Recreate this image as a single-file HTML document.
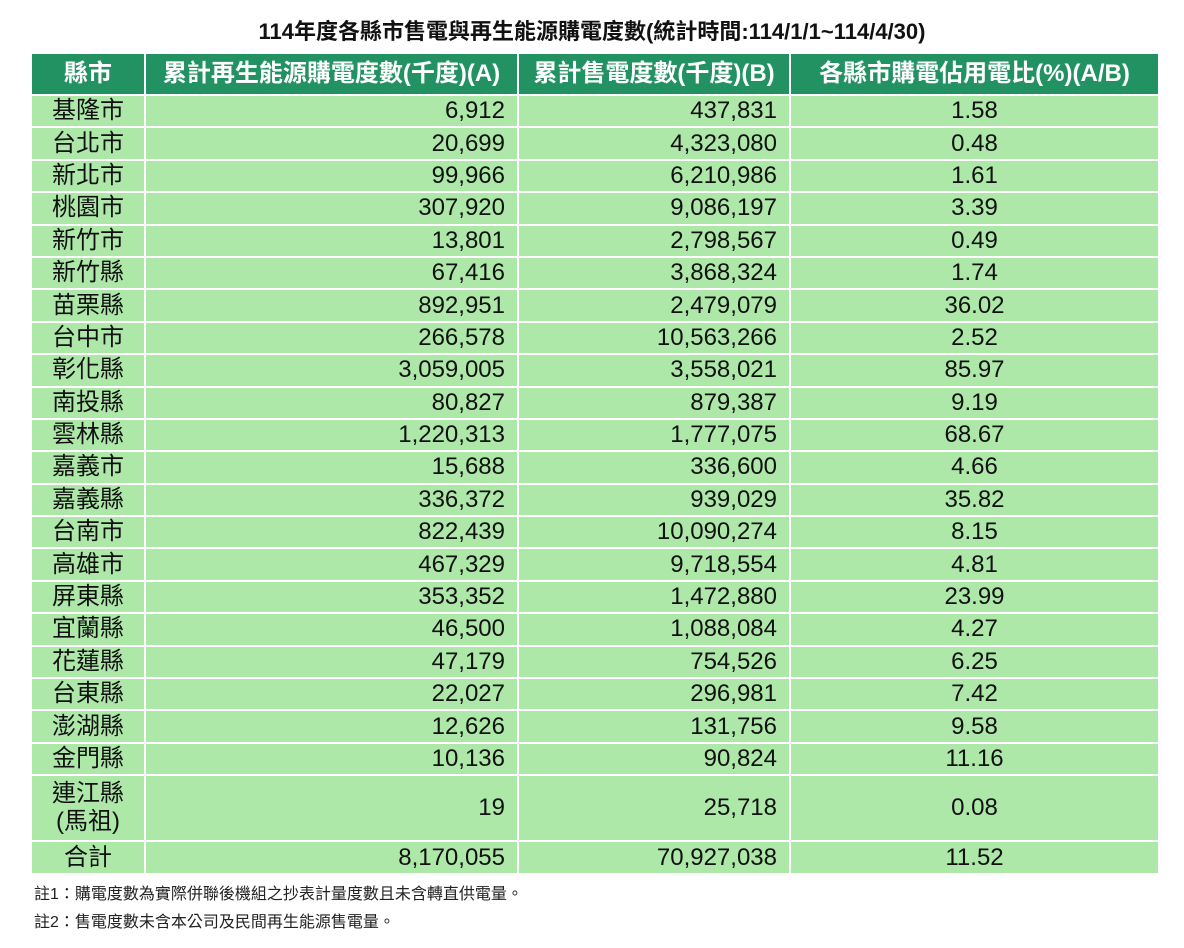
<!DOCTYPE html>
<html><head><meta charset="utf-8"><style>
body{margin:0;background:#fff;width:1184px;height:948px;overflow:hidden;font-family:"Liberation Sans","Noto Sans CJK TC",sans-serif;}
#title{position:absolute;left:0;width:1184px;top:14px;text-align:center;font-weight:bold;font-size:22px;color:#111;}
table{position:absolute;left:30px;top:52px;width:1128px;border-collapse:collapse;table-layout:fixed;}
td,th{border:2px solid #fff;padding:0 12px;font-size:24px;line-height:28px;color:#111;}
th{background:#229263;color:#fff;font-weight:bold;height:40px;white-space:nowrap;padding:0 4px;}
td{background:#ade8a9;height:30px;}
td.n{text-align:right;}
td.c{text-align:center;padding:0 4px;}
.note{position:absolute;left:34px;font-size:16px;color:#222;}
</style></head><body>
<div id="title">114年度各縣市售電與再生能源購電度數(統計時間:114/1/1~114/4/30)</div>
<table>
<colgroup><col style="width:114px"><col style="width:373px"><col style="width:272px"><col style="width:369px"></colgroup>
<thead><tr>
<th>縣市</th>
<th>累計再生能源購電度數(千度)(A)</th>
<th>累計售電度數(千度)(B)</th>
<th>各縣市購電佔用電比(%)(A/B)</th>
</tr></thead>
<tbody id="tb"></tbody>
</table>
<div class="note" style="top:880px">註1：購電度數為實際併聯後機組之抄表計量度數且未含轉直供電量。</div>
<div class="note" style="top:908px">註2：售電度數未含本公司及民間再生能源售電量。</div>
<script>
const counties=["基隆市","台北市","新北市","桃園市","新竹市","新竹縣","苗栗縣","台中市","彰化縣","南投縣","雲林縣","嘉義市","嘉義縣","台南市","高雄市","屏東縣","宜蘭縣","花蓮縣","台東縣","澎湖縣","金門縣","連江縣<br>(馬祖)","合計"];
const renewable=["6,912","20,699","99,966","307,920","13,801","67,416","892,951","266,578","3,059,005","80,827","1,220,313","15,688","336,372","822,439","467,329","353,352","46,500","47,179","22,027","12,626","10,136","19","8,170,055"];
const sales=["437,831","4,323,080","6,210,986","9,086,197","2,798,567","3,868,324","2,479,079","10,563,266","3,558,021","879,387","1,777,075","336,600","939,029","10,090,274","9,718,554","1,472,880","1,088,084","754,526","296,981","131,756","90,824","25,718","70,927,038"];
const ratio=["1.58","0.48","1.61","3.39","0.49","1.74","36.02","2.52","85.97","9.19","68.67","4.66","35.82","8.15","4.81","23.99","4.27","6.25","7.42","9.58","11.16","0.08","11.52"];
const tb=document.getElementById('tb');
counties.forEach((c,i)=>{
 const tr=document.createElement('tr');
 
 
 const h=(i===21)?64:(i===22?31:30.4);
 [[c,'c'],[renewable[i],'n'],[sales[i],'n'],[ratio[i],'c']].forEach((v,j)=>{
  const td=document.createElement('td');
  td.className=v[1];
  td.innerHTML=v[0];
  td.style.height=h+'px';
  
  
  tr.appendChild(td);
 });
 tb.appendChild(tr);
});
</script>
</body></html>
